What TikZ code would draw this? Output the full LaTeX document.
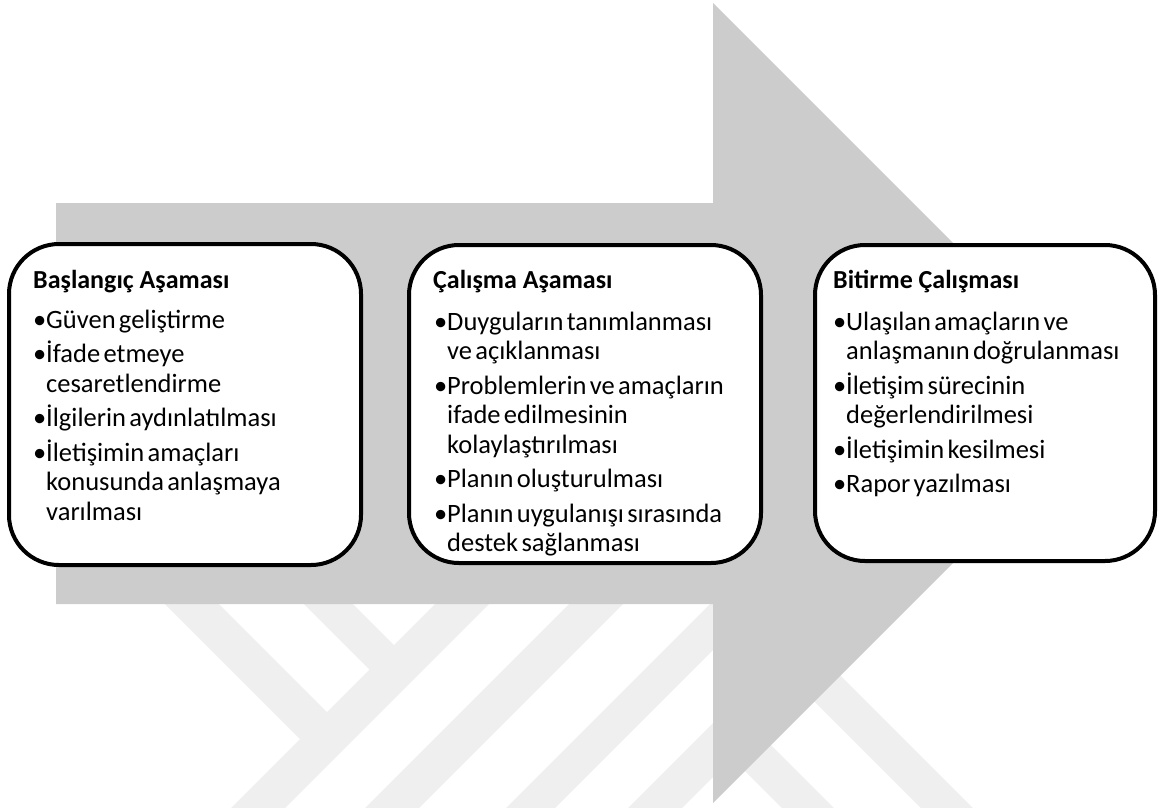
\documentclass[tikz,border=0pt]{standalone}
\usepackage{fontspec}
\setmainfont{Carlito}
\definecolor{arrowgray}{RGB}{204,204,204}
\definecolor{markgray}{RGB}{239,239,239}
\newcommand{\phaseitem}[1]{\hangindent=13pt\hangafter=1\noindent\makebox[13pt][l]{\textbullet}#1\par}
\newcommand{\listsetup}{\fontsize{26.5}{29.5}\selectfont\setlength{\parskip}{5pt}}
\tikzset{
  phase/.style={draw=black,line width=4pt,fill=white,rounded corners=50pt,inner sep=0pt},
  phasehead/.style={anchor=base west,inner sep=0pt,font=\fontsize{26}{30}\selectfont\bfseries},
  phaselist/.style={anchor=base west,inner sep=0pt,text width=330pt,align=left}
}
\begin{document}
\begin{tikzpicture}[line cap=round,line join=round,x=1pt,y=-1pt]
\useasboundingbox (0,0) rectangle (1159,807);
% faint bands under the arrow
\begin{scope}
\clip (0,604) rectangle (1159,807);
\fill[markgray] (165,604) -- (219,604) -- (340,725) -- (313,752) -- cycle;
\fill[markgray] (304,604) -- (353,604) -- (409,660) -- (385,685) -- cycle;
\fill[markgray] (222,817) -- (276,817) -- (489,604) -- (435,604) -- cycle;
\fill[markgray] (356,817) -- (410,817) -- (623,604) -- (569,604) -- cycle;
\fill[markgray] (497,817) -- (546,817) -- (759,604) -- (710,604) -- cycle;
\fill[markgray] (619,817) -- (673,817) -- (886,604) -- (832,604) -- cycle;
\fill[markgray] (805,640) -- (985,820) -- (933,820) -- (783,670) -- cycle;
\fill[markgray] (746,720) -- (846,820) -- (794,820) -- (719,745) -- cycle;
\end{scope}
% big arrow
\fill[arrowgray] (56,203) -- (713,203) -- (713,3) -- (1113,403) -- (713,803) -- (713,604) -- (56,604) -- cycle;
% phase boxes
\node[phase,minimum width=352pt,minimum height=321pt] (basla) at (185,404.5) {};
\node[phase,minimum width=352pt,minimum height=318pt] (calisma) at (585,404) {};
\node[phase,minimum width=340pt,minimum height=316pt] (bitirme) at (985,403) {};
% headings
\node[phasehead] (baslabaslik) at (33,288) {Başlangıç Aşaması};
\node[phasehead] (calismabaslik) at (433,288) {Çalışma Aşaması};
\node[phasehead] (bitirmebaslik) at (833,288) {Bitirme Çalışması};
% lists
\node[phaselist] (baslaliste) at (33,328) {\listsetup
\phaseitem{Güven geliştirme}
\phaseitem{İfade etmeye\newline cesaretlendirme}
\phaseitem{İlgilerin aydınlatılması}
\phaseitem{İletişimin amaçları\newline konusunda anlaşmaya\newline varılması}};
\node[phaselist] (calismaliste) at (434,330) {\listsetup
\phaseitem{Duyguların tanımlanması\newline ve açıklanması}
\phaseitem{Problemlerin ve amaçların\newline ifade edilmesinin\newline kolaylaştırılması}
\phaseitem{Planın oluşturulması}
\phaseitem{Planın uygulanışı sırasında\newline destek sağlanması}};
\node[phaselist] (bitirmeliste) at (833,330) {\listsetup
\phaseitem{Ulaşılan amaçların ve\newline anlaşmanın doğrulanması}
\phaseitem{İletişim sürecinin\newline değerlendirilmesi}
\phaseitem{İletişimin kesilmesi}
\phaseitem{Rapor yazılması}};
\end{tikzpicture}
\end{document}
